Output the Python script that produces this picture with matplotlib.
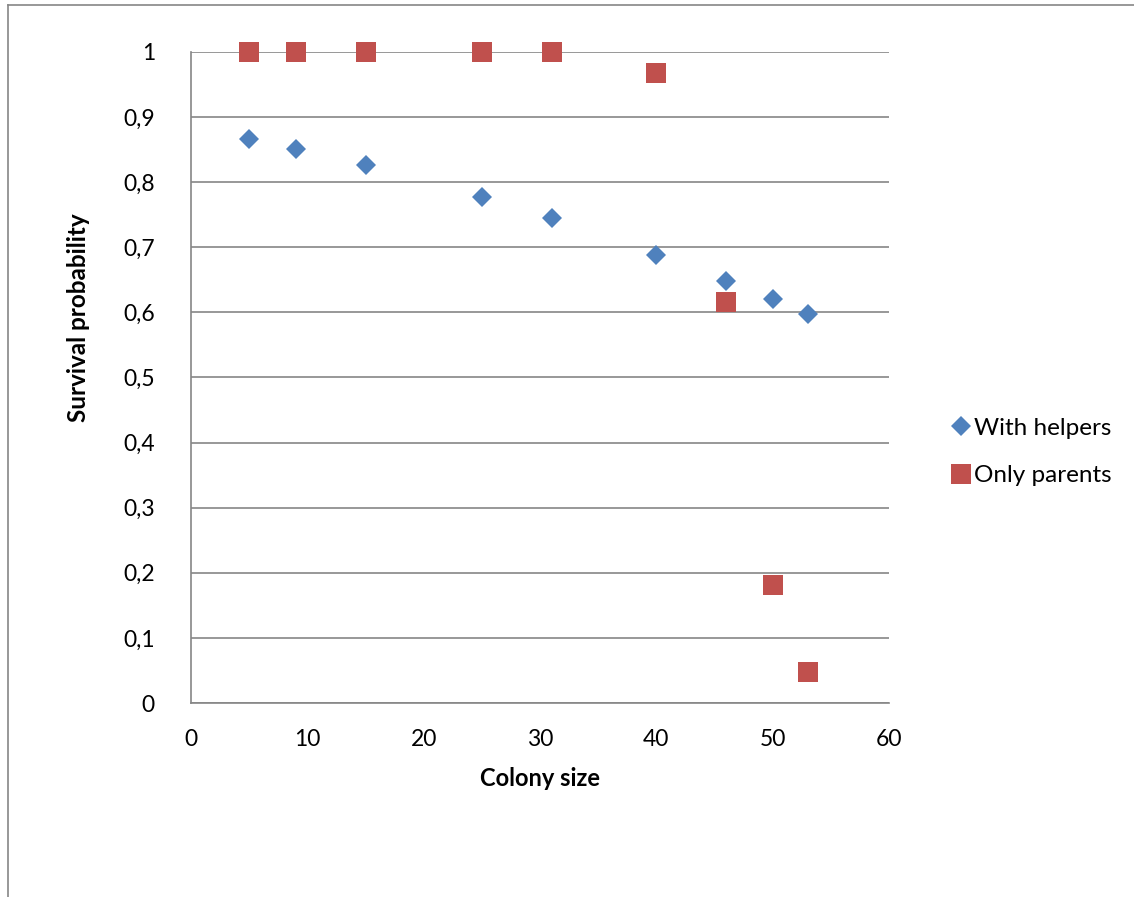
import matplotlib
matplotlib.use("Agg")
import matplotlib.pyplot as plt
from matplotlib.lines import Line2D

plt.rcParams['font.family'] = ['Lato', 'DejaVu Sans']

colony_size = [5, 9, 15, 25, 31, 40, 46, 50, 53]
with_helpers = [0.866, 0.851, 0.826, 0.777, 0.745, 0.688, 0.648, 0.621, 0.598]
only_parents = [1.0, 1.0, 1.0, 1.0, 1.0, 0.968, 0.616, 0.181, 0.048]
series_names = ["With helpers", "Only parents"]
x_ticks = [0, 10, 20, 30, 40, 50, 60]
y_ticks = [0, 0.1, 0.2, 0.3, 0.4, 0.5, 0.6, 0.7, 0.8, 0.9, 1.0]
y_tick_labels = ["0", "0,1", "0,2", "0,3", "0,4", "0,5", "0,6", "0,7", "0,8", "0,9", "1"]

W, H = 1134, 897
fig = plt.figure(figsize=(W / 100, H / 100), dpi=100)
ax = fig.add_axes([191 / W, 1 - 703 / H, (889 - 191) / W, (703 - 52) / H])

grey = '#868686'
blue = '#4F81BD'
red = '#C0504D'

ax.plot(colony_size, with_helpers, linestyle='none', marker='D', markersize=10.5,
        color=blue, markeredgewidth=0, label=series_names[0], zorder=3, clip_on=False)
ax.plot(colony_size, only_parents, linestyle='none', marker='s', markersize=15,
        color=red, markeredgewidth=0, label=series_names[1], zorder=4, clip_on=False)

ax.set_xlim(0, 60)
ax.set_ylim(0, 1)
ax.set_xticks(x_ticks)
ax.set_xticklabels([str(v) for v in x_ticks])
ax.set_yticks(y_ticks)
ax.set_yticklabels(y_tick_labels)
ax.tick_params(length=0, labelsize=16.5, colors='black')
ax.tick_params(axis='y', pad=26)
ax.tick_params(axis='x', pad=19)

ax.grid(axis='y', color=grey, linewidth=1.2)
ax.set_axisbelow(True)
for s in ['top', 'right']:
    ax.spines[s].set_visible(False)
for s in ['left', 'bottom']:
    ax.spines[s].set_color(grey)
    ax.spines[s].set_linewidth(1.2)

ax.set_xlabel("Colony size", fontsize=17, fontweight='bold', labelpad=12)
fig.text(78 / W, 1 - 318 / H, "Survival probability", rotation=90, fontsize=17.5,
         fontweight='bold', ha='center', va='center')

fig.legend(loc='center left', bbox_to_anchor=(950 / W, 1 - 452 / H), frameon=False,
           fontsize=17.5, handletextpad=0.1, labelspacing=1.1, borderaxespad=0,
           borderpad=0, handlelength=0.9, markerscale=0.95)

# outer chart border (partially cropped)
fig.add_artist(Line2D([7.5 / W, 7.5 / W], [0, 1 - 5.5 / H], color=grey, linewidth=1.2,
                      transform=fig.transFigure))
fig.add_artist(Line2D([7.5 / W, 1], [1 - 5.5 / H, 1 - 5.5 / H], color=grey, linewidth=1.2,
                      transform=fig.transFigure))

fig.savefig("out.png", dpi=100)
